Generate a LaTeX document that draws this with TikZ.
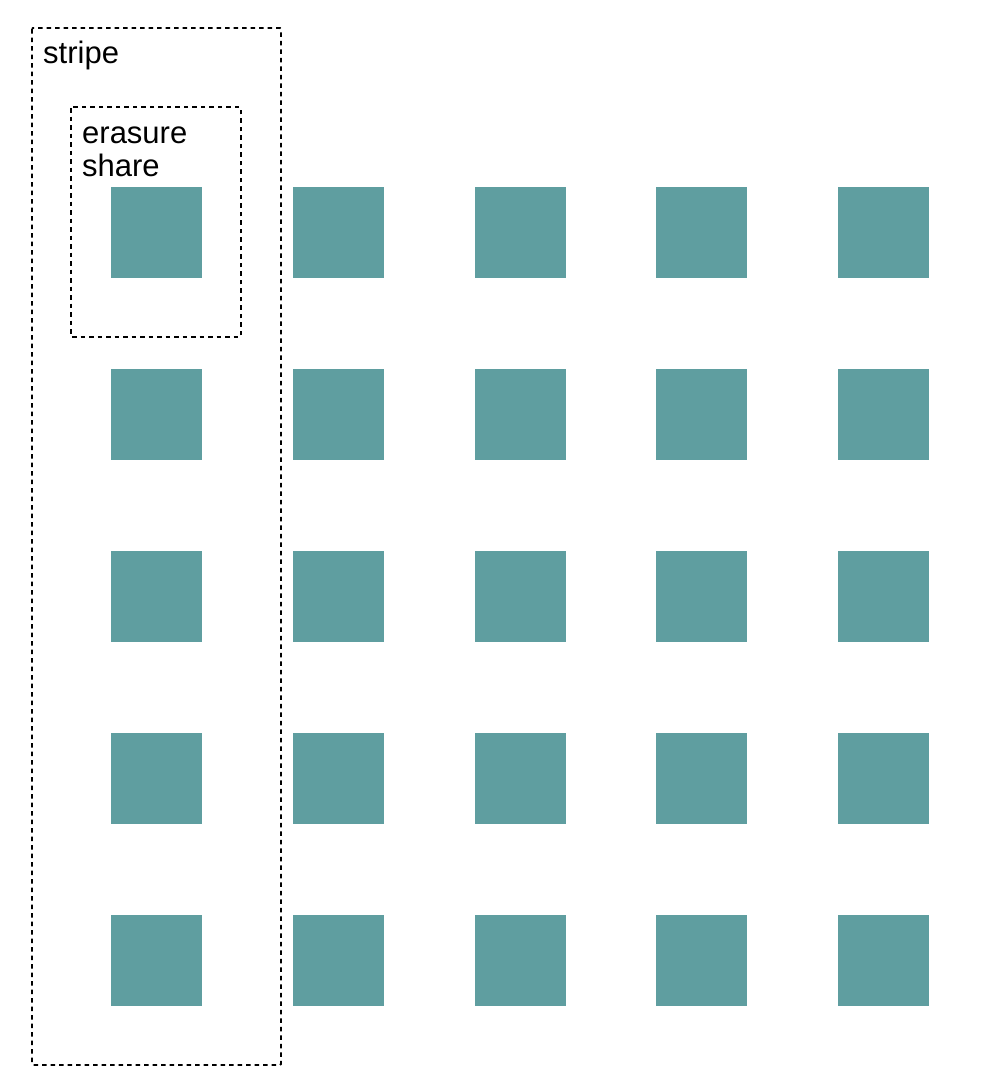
\documentclass[tikz,border=0pt]{standalone}
\usepackage{fontspec}
\setmainfont{Liberation Sans}
\begin{document}
\begin{tikzpicture}[x=1pt,y=-1pt,
  blk/.style={fill=cadet,draw=none,minimum width=91pt,minimum height=91pt,inner sep=0pt,anchor=north west},
  grp/.style={draw=black,line width=1.8pt,dash pattern=on 4.5pt off 4pt,rounded corners=1pt},
  lbl/.style={anchor=base west,inner sep=0pt,font=\fontsize{31}{33}\selectfont,align=left}]
\definecolor{cadet}{RGB}{95,158,160}
\useasboundingbox (0,0) rectangle (982,1092);
\foreach \i in {0,...,4}{
  \foreach \j in {0,...,4}{
    \node[blk] (b\i\j) at ({111+181.75*\i},{187+182*\j}) {};
  }
}
\draw[grp] (32,28) rectangle (281,1065);
\draw[grp] (71,107) rectangle (241,337);
\node[lbl] (stripe) at (43,63) {stripe};
\node[lbl] (share) at (82,176) {erasure\\share};
\end{tikzpicture}
\end{document}
